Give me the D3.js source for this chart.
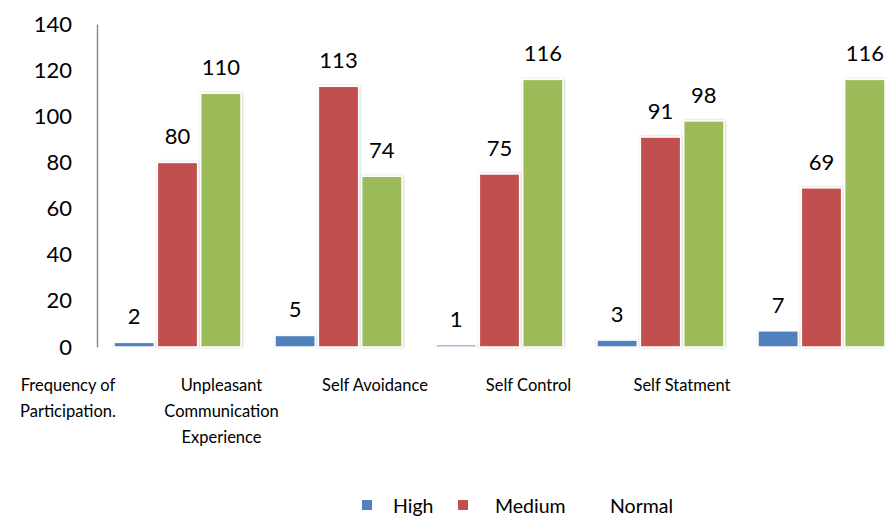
<!DOCTYPE html>
<html lang="en">
	<head>
		<meta charset="utf-8">
		<title>D3: grouped bar chart</title>
		<script src="https://d3js.org/d3.v7.min.js"></script>
		<style type="text/css">
			body { margin: 0; background: #fff; }
			text { font-family: Lato, "Open Sans", sans-serif; fill: #000; }
		</style>
	</head>
	<body>
		<script type="text/javascript">
			//Size
			var width = 886;
			var height = 516;

			//Data
			var categories = ["Frequency of Participation.", "Unpleasant Communication Experience",
							  "Self Avoidance", "Self Control", "Self Statment"];
			var categoryLines = [["Frequency of", "Participation."],
								 ["Unpleasant", "Communication", "Experience"],
								 ["Self Avoidance"], ["Self Control"], ["Self Statment"]];
			var seriesNames = ["High", "Medium", "Normal"];
			var high   = [2, 5, 1, 3, 7];
			var medium = [80, 113, 75, 91, 69];
			var normal = [110, 74, 116, 98, 116];
			var yTicks = [0, 20, 40, 60, 80, 100, 120, 140];
			var colors = ["#4F81BD", "#C0504D", "#9BBB59"];

			var series = [high, medium, normal];

			var svg = d3.select("body")
						.append("svg")
							.attr("width", width)
							.attr("height", height);

			//soft shadow round the bars
			var shadow = svg.append("defs").append("filter")
				.attr("id", "shadow")
				.attr("x", "-20%").attr("y", "-5%")
				.attr("width", "140%").attr("height", "110%");
			shadow.append("feDropShadow")
				.attr("dx", 0.5).attr("dy", 0)
				.attr("stdDeviation", 0.8)
				.attr("flood-color", "#000")
				.attr("flood-opacity", 0.25);

			var y = d3.scaleLinear()
				.domain([0, 140])
				.range([347, 24]);

			var x0 = d3.scaleBand()
				.domain(categories)
				.range([97, 902])
				.paddingInner(0)
				.paddingOuter(0);

			var x1 = d3.scaleBand()
				.domain(seriesNames)
				.range([17, x0.bandwidth() - 17])
				.paddingInner(0.07);

			//Category labels sit on their own spacing, left of the groups
			var xLabel = d3.scalePoint()
				.domain(categories)
				.range([68, 682]);

			//Y axis
			var leftAxis = d3.axisLeft(y)
				.tickValues(yTicks)
				.tickSize(0)
				.tickPadding(25);

			var gy = svg.append("g")
				.attr("transform", "translate(97,0)")
				.call(leftAxis);
			gy.select(".domain").attr("stroke", "#8c8c8c").attr("stroke-width", 1.5);
			gy.selectAll("text")
				.attr("font-size", "22px")
				.attr("font-family", "Lato, sans-serif")
				.attr("fill", "#000");

			//Bars
			var groups = svg.selectAll("g.group")
				.data(categories)
				.enter()
				.append("g")
				.attr("class", "group")
				.attr("transform", function(d) { return "translate(" + x0(d) + ",0)"; });

			groups.selectAll("rect")
				.data(function(d, i) {
					return seriesNames.map(function(s, j) { return { s: s, j: j, v: series[j][i] }; });
				})
				.enter()
				.append("rect")
				.attr("x", function(d) { return x1(d.s); })
				.attr("y", function(d) { return y(d.v); })
				.attr("width", x1.bandwidth())
				.attr("height", function(d) { return y(0) - y(d.v); })
				.attr("fill", function(d) { return colors[d.j]; })
				.attr("stroke", "#fff")
				.attr("stroke-width", 1.5)
				.attr("filter", "url(#shadow)");

			groups.selectAll("text.val")
				.data(function(d, i) {
					return seriesNames.map(function(s, j) { return { s: s, j: j, v: series[j][i] }; });
				})
				.enter()
				.append("text")
				.attr("class", "val")
				.text(function(d) { return d.v; })
				.attr("text-anchor", "middle")
				.attr("x", function(d) { return x1(d.s) + x1.bandwidth() / 2; })
				.attr("y", function(d) { return y(d.v) - 18; })
				.attr("font-size", "22px");

			//Category labels
			svg.selectAll("text.cat")
				.data(categories)
				.enter()
				.append("text")
				.attr("class", "cat")
				.attr("text-anchor", "middle")
				.attr("font-size", "16.5px")
				.attr("x", function(d) { return xLabel(d); })
				.attr("y", 391)
				.each(function(d, i) {
					var t = d3.select(this);
					categoryLines[i].forEach(function(line, k) {
						t.append("tspan")
							.attr("x", xLabel(d))
							.attr("dy", k === 0 ? 0 : 26)
							.text(line);
					});
				});

			//Legend (the Normal entry has no swatch in the original)
			var legendSwatchX = [362, 458];
			var legendTextX = [393, 495, 610];

			svg.selectAll("rect.legend")
				.data(seriesNames.slice(0, 2))
				.enter()
				.append("rect")
				.attr("class", "legend")
				.attr("x", function(d, i) { return legendSwatchX[i]; })
				.attr("y", 500)
				.attr("width", 10)
				.attr("height", 10)
				.attr("fill", function(d, i) { return colors[i]; });

			svg.selectAll("text.legend")
				.data(seriesNames)
				.enter()
				.append("text")
				.attr("class", "legend")
				.attr("x", function(d, i) { return legendTextX[i]; })
				.attr("y", 513)
				.attr("font-size", "19.5px")
				.text(function(d) { return d; });
		</script>
	</body>
</html>
